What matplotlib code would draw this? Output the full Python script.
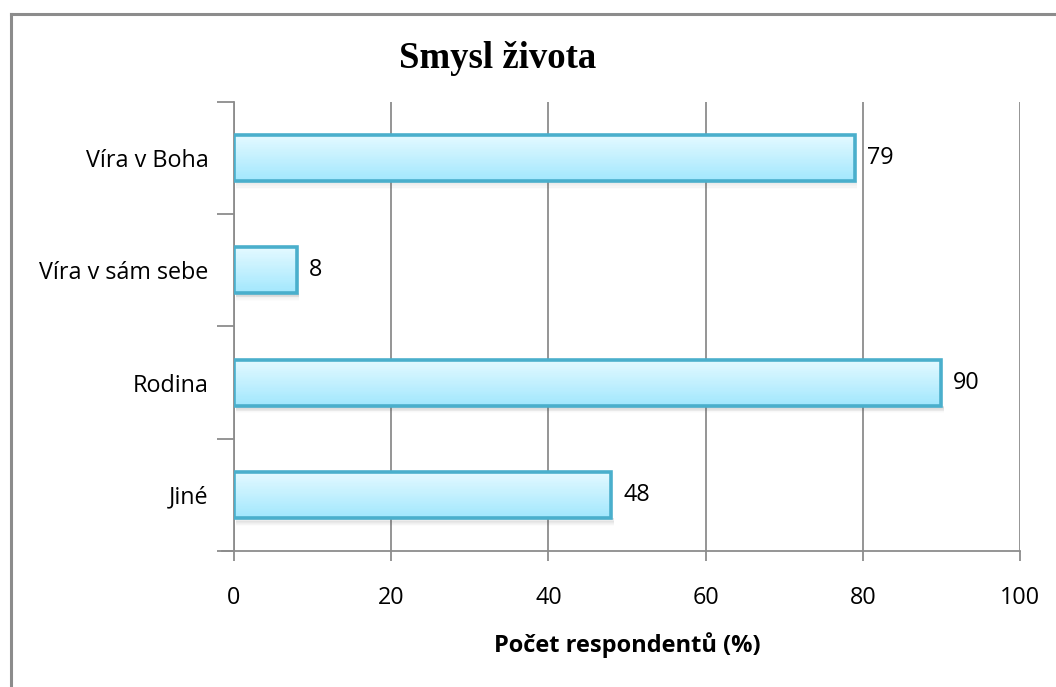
import numpy as np
import matplotlib
matplotlib.use("Agg")
import matplotlib.pyplot as plt
from matplotlib.patches import Rectangle
from matplotlib.colors import LinearSegmentedColormap
from matplotlib.lines import Line2D

categories = ["Víra v Boha", "Víra v sám sebe", "Rodina", "Jiné"]
values = [79, 8, 90, 48]
xticks = [0, 20, 40, 60, 80, 100]
title = "Smysl života"
xlabel = "Počet respondentů (%)"

FONT = "Open Sans"
GRID = "#8c8c8c"
FS = 16.8

fig = plt.figure(figsize=(10.56, 6.87), dpi=100)
fig.patch.set_facecolor("white")

# outer chart frame (left and top edges)
fig.add_artist(Line2D([11 / 1056, 11 / 1056], [1 - 14 / 687, -0.01], transform=fig.transFigure,
                      color=GRID, lw=2.2))
fig.add_artist(Line2D([11 / 1056, 1.01], [1 - 14 / 687, 1 - 14 / 687], transform=fig.transFigure,
                      color=GRID, lw=2.2))

ax = fig.add_axes([234 / 1056, 1 - 551 / 687, 786 / 1056, 449 / 687])
n = len(categories)

for s in ["top", "right"]:
    ax.spines[s].set_visible(False)
for s in ["left", "bottom"]:
    ax.spines[s].set_color(GRID)
    ax.spines[s].set_linewidth(1.3)

ax.set_xticks(xticks)
ax.set_xticklabels([str(t) for t in xticks], fontfamily=FONT, fontsize=FS)
ax.set_yticks(np.arange(n + 1) - 0.5, minor=False)
ax.set_yticklabels([])
ax.set_yticks(np.arange(n), minor=True)
ax.set_yticklabels(categories, minor=True, fontfamily=FONT, fontsize=FS)
ax.tick_params(axis="y", which="major", length=12, width=1.3, color=GRID)
ax.tick_params(axis="y", which="minor", length=0, pad=18.5)
ax.tick_params(axis="x", length=7, width=1.3, color=GRID, pad=18)
ax.xaxis.grid(True, color=GRID, lw=1.3)
ax.set_axisbelow(True)

# bottom axis extends a bit to the left of the origin
ax.plot([-1.5, 0], [n - 0.5, n - 0.5], color=GRID, lw=1.3, clip_on=False, zorder=3)

# vertical gradient: light at the top edge of each bar, deeper cyan at the bottom
cmap = LinearSegmentedColormap.from_list("bar", ["#e3f9ff", "#a2e7fd"])
steps = 40
h = 0.41
for i, v in enumerate(values):
    y0 = i - h / 2  # visual top of the bar (y axis is inverted)
    # soft shadow under the bar
    for k in range(8):
        ax.add_patch(Rectangle((0.3, y0 + h + k * 0.008), v, 0.012, facecolor="#505050",
                               alpha=0.14 * (1 - k / 8), lw=0, zorder=2))
    for k in range(steps):
        ax.add_patch(Rectangle((0, y0 + k * h / steps), v, h / steps * 1.05,
                               facecolor=cmap(k / (steps - 1)), lw=0, zorder=3))
    ax.add_patch(Rectangle((0, y0), v, h, facecolor="none", edgecolor="#4aafcc", lw=2.6, zorder=4))
    ax.text(v + 1.5, i, str(v), va="center", ha="left", fontfamily=FONT, fontsize=FS,
            color="black", zorder=5)

ax.set_xlim(0, 100)
ax.set_ylim(n - 0.5, -0.5)

ax.set_xlabel(xlabel, fontfamily=FONT, fontweight="bold", fontsize=17, labelpad=16)
fig.text(498 / 1056, 1 - 58 / 687, title, ha="center", va="center", fontfamily="Liberation Serif",
         fontweight="bold", fontsize=26.5)

fig.savefig("out.png", dpi=100)
